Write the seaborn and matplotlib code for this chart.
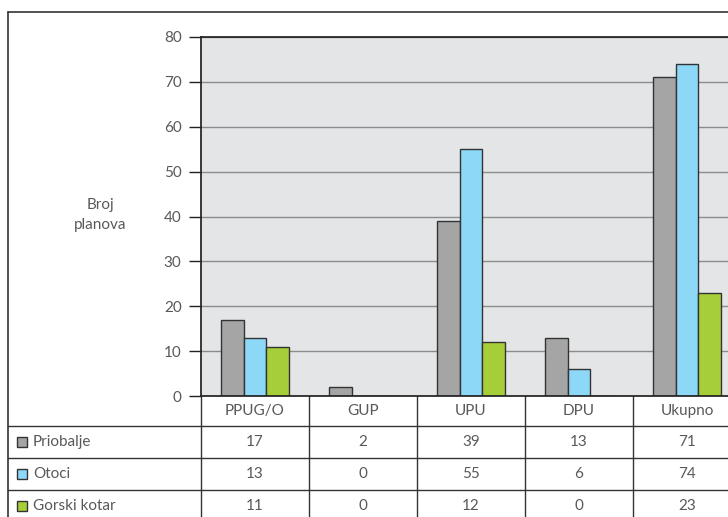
"""Broj planova po vrsti plana i području (stupčasti grafikon s tablicom podataka)."""
import matplotlib
matplotlib.use("Agg")
import matplotlib.pyplot as plt
import matplotlib.transforms as mtransforms
from matplotlib.patches import Rectangle
import pandas as pd
import seaborn as sns

categories = ["PPUG/O", "GUP", "UPU", "DPU", "Ukupno"]
series_names = ["Priobalje", "Otoci", "Gorski kotar"]
priobalje = [17, 2, 39, 13, 71]
otoci = [13, 0, 55, 6, 74]
gorski_kotar = [11, 0, 12, 0, 23]
colors = ["#A5A5A5", "#8DD7F7", "#A6CE39"]
y_ticks = [0, 10, 20, 30, 40, 50, 60, 70, 80]

TEXT = "#595959"


def main() -> None:
    values = [priobalje, otoci, gorski_kotar]
    df = pd.DataFrame(
        [
            {"plan": cat, "podrucje": name, "broj": vals[i]}
            for name, vals in zip(series_names, values)
            for i, cat in enumerate(categories)
        ]
    )

    sns.set_theme(style="white")
    plt.rcParams["font.family"] = ["Lato", "DejaVu Sans"]

    W, H = 728, 517
    fig = plt.figure(figsize=(W / 100, H / 100), dpi=100)
    fig.patch.set_facecolor("white")

    # overlay in pixel coordinates for frame and table
    tab = fig.add_axes([0, 0, 1, 1], zorder=0)
    tab.set_xlim(0, W)
    tab.set_ylim(H, 0)
    tab.axis("off")

    left, right, top, base = 201, 741, 37, 396
    ax = fig.add_axes(
        [left / W, (H - base) / H, (right - left) / W, (base - top) / H], zorder=1
    )
    ax.set_facecolor("#E4E5E7")
    sns.barplot(
        data=df, x="plan", y="broj", hue="podrucje", order=categories,
        hue_order=series_names, palette=colors, width=0.63, gap=0,
        edgecolor="#333333", linewidth=1.0, saturation=1, ax=ax, legend=False,
    )
    ax.set_xlim(-0.5, len(categories) - 0.5)
    ax.set_ylim(0, 80)
    ax.set_yticks(y_ticks)
    ax.yaxis.grid(True, color="#8C8C8C", linewidth=1.0)
    ax.set_axisbelow(True)
    ax.set_xticks([])
    ax.set_xlabel("")
    ax.set_ylabel("")
    ax.spines["right"].set_visible(False)
    for s in ["left", "bottom", "top"]:
        ax.spines[s].set_color("#222222")
    ax.tick_params(axis="y", left=True, length=9, width=1, color="#222222",
                   labelsize=11, labelcolor=TEXT, pad=5)

    fig.text(100 / W, 1 - 215 / H, "Broj\nplanova", ha="center", va="center",
             fontsize=11, color=TEXT, linespacing=1.55)

    # outer frame
    tab.plot([8, W], [12, 12], color="#333333", lw=1.2)
    tab.plot([8, 8], [12, H], color="#333333", lw=1.2)

    # data table
    trans = mtransforms.blended_transform_factory(ax.transData, tab.transData)
    row_edges = [396, 426, 458, 490, 522]
    for y in row_edges[1:]:
        tab.plot([8, W], [y, y], color="#333333", lw=1.0)
    for i in range(len(categories)):
        tab.plot([i - 0.5, i - 0.5], [row_edges[0], H], color="#333333", lw=1.0,
                 transform=trans)
    for i, cat in enumerate(categories):
        tab.text(i, (row_edges[0] + row_edges[1]) / 2, cat, transform=trans,
                 ha="center", va="center", fontsize=11, color=TEXT)
    for r, (name, vals, col) in enumerate(zip(series_names, values, colors)):
        yc = (row_edges[r + 1] + row_edges[r + 2]) / 2
        tab.add_patch(Rectangle((17, yc - 5), 10, 10, facecolor=col,
                                edgecolor="#333333", lw=1.0))
        tab.text(33, yc, name, ha="left", va="center", fontsize=11, color=TEXT)
        for i, v in enumerate(vals):
            tab.text(i, yc, str(v), transform=trans, ha="center", va="center",
                     fontsize=11, color=TEXT)

    fig.savefig("out.png", dpi=100)
    plt.close(fig)


if __name__ == "__main__":
    main()
